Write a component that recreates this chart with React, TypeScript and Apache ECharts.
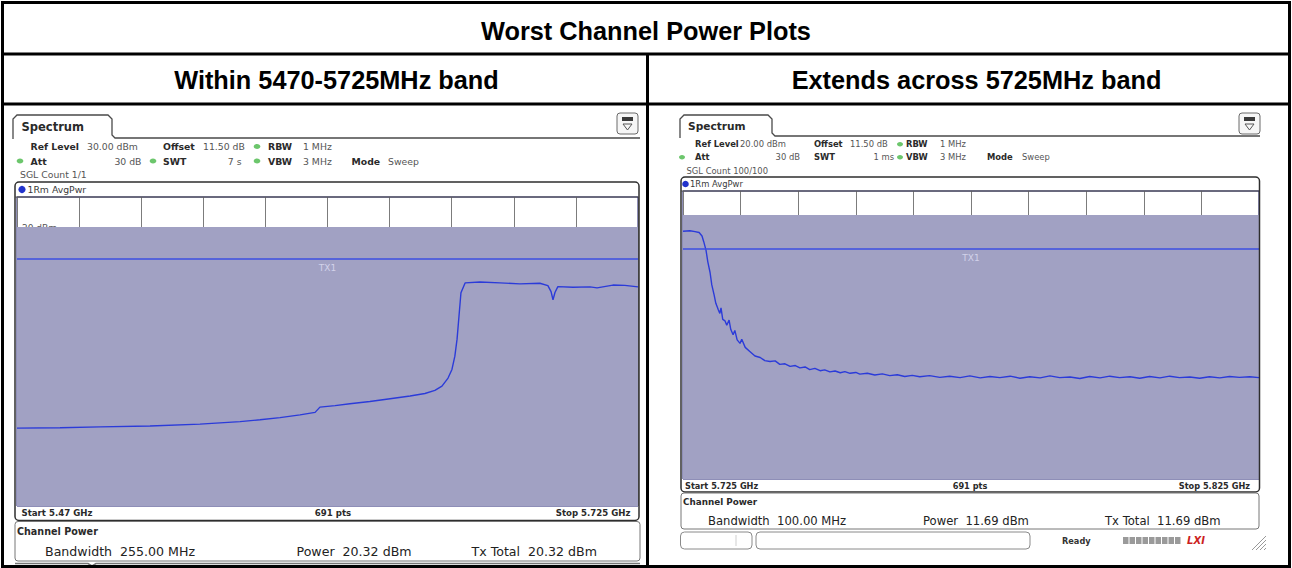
import React, { useEffect, useRef } from "react";
import * as echarts from "echarts";

// ---------- data ----------
const leftFreqMHz = [5470, 5487.7, 5504.1, 5524.6, 5545.1, 5561.6, 5569.8, 5578, 5586.2, 5592.4, 5594.4, 5600.6, 5606.7, 5614.9, 5623.2, 5631.4, 5637.5, 5641.6, 5644.5, 5647, 5648.6, 5649.8, 5650.7, 5651.5, 5652.3, 5654, 5660.1, 5668.3, 5676.5, 5684.7, 5688, 5689.3, 5690.1, 5690.9, 5692.1, 5698.3, 5705.3, 5708.2, 5714.7, 5719.6, 5725];
const leftPowerDbm = [-44.8, -44.7, -44.4, -44.1, -43.5, -42.7, -42.1, -41.4, -40.5, -39.7, -38.0, -37.5, -36.9, -36.2, -35.3, -34.4, -33.6, -32.6, -31.2, -28.6, -25.8, -21.5, -16.0, -8.5, -1.0, 2.2, 2.5, 2.2, 1.9, 2.1, 1.3, -0.6, -3.3, -0.9, 1.0, 0.8, 0.9, 0.6, 1.5, 1.4, 0.9];

const rightFreqMHz = [5725, 5726.2, 5727.1, 5727.8, 5728.3, 5728.6, 5729.0, 5729.3, 5729.7, 5730.0, 5730.4, 5730.7, 5731.1, 5731.4, 5731.6, 5731.9, 5732.3, 5732.6, 5733.0, 5733.3, 5733.7, 5734.0, 5734.4, 5734.9, 5735.2, 5735.8, 5736.6, 5737.5, 5738.4, 5739.2, 5740.1, 5741.0, 5741.8, 5742.7, 5743.6, 5744.5, 5745.3, 5746.2, 5747.0, 5747.9, 5748.8, 5749.6, 5750.5, 5751.4, 5752.3, 5753.1, 5754.0, 5755.0, 5755.7, 5757.0, 5758.3, 5759.6, 5760.9, 5762.2, 5763.5, 5764.8, 5766.1, 5767.8, 5769.6, 5771.3, 5773.1, 5774.8, 5776.6, 5778.3, 5780.0, 5781.8, 5783.5, 5785.2, 5787.0, 5788.7, 5790.4, 5792.2, 5793.9, 5795.6, 5797.4, 5799.1, 5800.8, 5802.6, 5804.3, 5806.0, 5807.8, 5809.5, 5811.2, 5813.0, 5814.7, 5816.4, 5818.2, 5819.9, 5821.6, 5823.4, 5825.0];
const rightPowerDbm = [6.0, 6.2, 5.9, 5.6, 4.4, 2.4, -0.6, -4.5, -8.3, -12.6, -16.1, -19.0, -21.1, -22.5, -20.6, -24.6, -25.1, -26.6, -24.8, -28.1, -29.9, -28.4, -31.7, -32.9, -31.5, -34.3, -35.7, -37.3, -37.8, -38.9, -39.2, -39.0, -40.2, -40.0, -40.9, -40.6, -41.4, -41.1, -42.0, -41.6, -42.4, -42.1, -42.8, -42.5, -43.1, -42.7, -43.3, -43.0, -43.6, -43.3, -43.9, -43.5, -44.1, -43.8, -44.4, -44.0, -44.5, -44.1, -44.7, -44.3, -44.8, -44.2, -44.9, -44.4, -44.8, -44.3, -45.0, -44.5, -44.9, -44.2, -44.8, -44.6, -45.1, -44.4, -44.9, -44.3, -44.8, -44.5, -45.0, -44.4, -44.9, -44.3, -44.8, -44.6, -45.0, -44.5, -44.9, -44.4, -44.7, -44.5, -44.8];

const leftStartMHz = 5470;
const leftStopMHz = 5725;
const rightStartMHz = 5725;
const rightStopMHz = 5825;
const leftRefLevel = 30;
const rightRefLevel = 20;
const leftChannelPower = 20.32;
const rightChannelPower = 11.69;
const leftTx1Level = 10;
const rightTx1Level = 0;

const titleText = "Worst Channel Power Plots";
const headingTexts = ["Within 5470-5725MHz band", "Extends across 5725MHz band"];

// ---------- helpers ----------
const UI = "DejaVu Sans";
const LAB = "#2a2a2a";
const VAL = "#555555";

function txt(x: number, y: number, text: string, o: any = {}) {
  const align = o.align || "left";
  return {
    type: "text",
    x,
    y,
    z: 100,
    silent: true,
    style: {
      text,
      fill: o.color || LAB,
      fontSize: o.size || 9,
      fontWeight: o.bold ? "bold" : "normal",
      fontFamily: o.family || UI,
      align,
      textAlign: align,
      verticalAlign: "middle",
      textVerticalAlign: "middle",
    },
  };
}
function rect(x: number, y: number, w: number, h: number, o: any = {}) {
  return {
    type: "rect",
    z: o.z ?? 90,
    silent: true,
    shape: { x, y, width: w, height: h, r: o.r || 0 },
    style: { fill: o.fill || "none", stroke: o.stroke || "none", lineWidth: o.lw || 1 },
  };
}
function line(x1: number, y1: number, x2: number, y2: number, stroke: string, lw = 1, z = 95) {
  return { type: "line", z, silent: true, shape: { x1, y1, x2, y2 }, style: { stroke, lineWidth: lw } };
}
function poly(points: number[][], stroke: string, lw = 1, fill = "none") {
  return { type: "polyline", z: 95, silent: true, shape: { points }, style: { stroke, lineWidth: lw, fill } };
}
function dot(cx: number, cy: number, color = "#6cc66c", rx = 3.3, ry = 2.4) {
  return { type: "ellipse", z: 100, silent: true, shape: { cx, cy, rx, ry }, style: { fill: color } };
}
function icon(x: number, y: number) {
  return [
    rect(x, y, 21, 21, { r: 3, stroke: "#6a6a6a", fill: "#f6f6f6", lw: 1 }),
    rect(x + 5, y + 4, 11, 4, { fill: "#3a3a3a", z: 101 }),
    { type: "polygon", z: 101, silent: true, shape: { points: [[x + 6, y + 11], [x + 15, y + 11], [x + 10.5, y + 17]] }, style: { fill: "none", stroke: "#555", lineWidth: 1 } },
  ];
}

function buildGraphics() {
  const g: any[] = [];
  // table
  g.push(rect(2.5, 2.5, 1287, 564, { stroke: "#000", lw: 3, z: 110 }));
  g.push(line(2, 54, 1290, 54, "#000", 3, 110));
  g.push(line(2, 104, 1290, 104, "#000", 3, 110));
  g.push(line(647.5, 54, 647.5, 567, "#000", 3, 110));
  g.push(txt(646, 30.5, titleText, { family: "Liberation Sans", bold: true, size: 25.3, color: "#000", align: "center" }));
  g.push(txt(336.5, 80, headingTexts[0], { family: "Liberation Sans", bold: true, size: 25.3, color: "#000", align: "center" }));
  g.push(txt(976.5, 80, headingTexts[1], { family: "Liberation Sans", bold: true, size: 25.3, color: "#000", align: "center" }));

  // ---------- left screenshot ----------
  g.push(poly([[13, 139], [13, 119], [17, 115], [108, 115], [112, 119], [112, 135], [115, 138], [640, 138]], "#4a4a4a", 1.3));
  g.push(...icon(617, 113));
  g.push(txt(21.5, 126.5, "Spectrum", { bold: true, size: 11.5 }));
  let y = 146.5;
  g.push(txt(30.5, y, "Ref Level", { bold: true, size: 9.3 }));
  g.push(txt(87, y, "30.00 dBm", { size: 9.3, color: VAL }));
  g.push(txt(163, y, "Offset", { bold: true, size: 9.3 }));
  g.push(txt(203, y, "11.50 dB", { size: 9.3, color: VAL }));
  g.push(dot(257, y));
  g.push(txt(268, y, "RBW", { bold: true, size: 9.3 }));
  g.push(txt(303, y, "1 MHz", { size: 9.3, color: VAL }));
  y = 161;
  g.push(dot(20, y));
  g.push(txt(30.5, y, "Att", { bold: true, size: 9.3 }));
  g.push(txt(141.5, y, "30 dB", { size: 9.3, color: VAL, align: "right" }));
  g.push(dot(153, y));
  g.push(txt(163, y, "SWT", { bold: true, size: 9.3 }));
  g.push(txt(241.5, y, "7 s", { size: 9.3, color: VAL, align: "right" }));
  g.push(dot(257, y));
  g.push(txt(268, y, "VBW", { bold: true, size: 9.3 }));
  g.push(txt(303, y, "3 MHz", { size: 9.3, color: VAL }));
  g.push(txt(351.5, y, "Mode", { bold: true, size: 9.3 }));
  g.push(txt(388, y, "Sweep", { size: 9.3, color: VAL }));
  g.push(txt(20, 174, "SGL Count 1/1", { size: 9.3, color: VAL }));
  g.push(rect(15, 182, 624, 338.5, { r: 4, stroke: "#2e2e2e", lw: 1.5 }));
  g.push(line(15, 197, 639, 197, "#444", 1));
  g.push({ type: "circle", z: 100, silent: true, shape: { cx: 22, cy: 189.5, r: 3.6 }, style: { fill: "#2233cc" } });
  g.push(txt(27.5, 189.5, "1Rm AvgPwr", { size: 9.3, color: "#3a3a3a" }));
  g.push(txt(21.5, 513, "Start 5.47 GHz", { bold: true, size: 8.6 }));
  g.push(txt(333, 513, "691 pts", { bold: true, size: 8.6, align: "center" }));
  g.push(txt(630.5, 513, "Stop 5.725 GHz", { bold: true, size: 8.6, align: "right" }));
  g.push(rect(15, 521.5, 625, 39.5, { r: 3, stroke: "#777", lw: 1 }));
  g.push(txt(17, 531, "Channel Power", { bold: true, size: 9.6 }));
  g.push(txt(45, 551, "Bandwidth  255.00 MHz", { size: 12.6, color: "#222" }));
  g.push(txt(296.5, 551, "Power  20.32 dBm", { size: 12.6, color: "#222" }));
  g.push(txt(471.5, 551, "Tx Total  20.32 dBm", { size: 12.6, color: "#222" }));
  g.push(poly([[15, 563.5], [88, 563.5], [92, 566], [96, 563.5], [640, 563.5]], "#777", 1.5));

  // ---------- right screenshot ----------
  g.push(poly([[680, 138], [680, 119], [684, 115], [768, 115], [772, 119], [772, 133], [775, 136], [1260, 136]], "#4a4a4a", 1.3));
  g.push(...icon(1239, 113));
  g.push(txt(688, 126, "Spectrum", { bold: true, size: 10.6 }));
  y = 144.3;
  g.push(txt(695, y, "Ref Level", { bold: true, size: 8.4 }));
  g.push(txt(740, y, "20.00 dBm", { size: 8.4, color: VAL }));
  g.push(txt(814, y, "Offset", { bold: true, size: 8.4 }));
  g.push(txt(850, y, "11.50 dB", { size: 8.4, color: VAL }));
  g.push(dot(900, y, "#6cc66c", 3, 2.2));
  g.push(txt(906, y, "RBW", { bold: true, size: 8.4 }));
  g.push(txt(940, y, "1 MHz", { size: 8.4, color: VAL }));
  y = 157.3;
  g.push(dot(682, y, "#6cc66c", 3, 2.2));
  g.push(txt(695, y, "Att", { bold: true, size: 8.4 }));
  g.push(txt(800, y, "30 dB", { size: 8.4, color: VAL, align: "right" }));
  g.push(txt(814, y, "SWT", { bold: true, size: 8.4 }));
  g.push(txt(894, y, "1 ms", { size: 8.4, color: VAL, align: "right" }));
  g.push(dot(900, y, "#6cc66c", 3, 2.2));
  g.push(txt(906, y, "VBW", { bold: true, size: 8.4 }));
  g.push(txt(940, y, "3 MHz", { size: 8.4, color: VAL }));
  g.push(txt(987, y, "Mode", { bold: true, size: 8.4 }));
  g.push(txt(1022, y, "Sweep", { size: 8.4, color: VAL }));
  g.push(txt(686.5, 170.7, "SGL Count 100/100", { size: 8.4, color: VAL }));
  g.push(rect(681, 177, 578.5, 315, { r: 4, stroke: "#2e2e2e", lw: 1.5 }));
  g.push(line(681, 191, 1259, 191, "#444", 1));
  g.push({ type: "circle", z: 100, silent: true, shape: { cx: 685.5, cy: 184, r: 3.3 }, style: { fill: "#2233cc" } });
  g.push(txt(690, 184, "1Rm AvgPwr", { size: 8.4, color: "#3a3a3a" }));
  g.push(txt(685, 485.5, "Start 5.725 GHz", { bold: true, size: 8.2 }));
  g.push(txt(970, 485.5, "691 pts", { bold: true, size: 8.2, align: "center" }));
  g.push(txt(1250, 485.5, "Stop 5.825 GHz", { bold: true, size: 8.2, align: "right" }));
  g.push(rect(681, 493, 578, 36, { r: 3, stroke: "#777", lw: 1 }));
  g.push(txt(683, 502, "Channel Power", { bold: true, size: 8.8 }));
  g.push(txt(708, 521, "Bandwidth  100.00 MHz", { size: 11.6, color: "#222" }));
  g.push(txt(923, 521, "Power  11.69 dBm", { size: 11.6, color: "#222" }));
  g.push(txt(1105, 521, "Tx Total  11.69 dBm", { size: 11.6, color: "#222" }));
  // status bar
  g.push(rect(680.5, 532, 71.5, 17, { r: 4, stroke: "#8a8a8a", lw: 1 }));
  g.push(line(736, 535, 736, 546, "#cfcfcf", 1));
  g.push(rect(756, 532, 274, 17, { r: 4, stroke: "#8a8a8a", lw: 1 }));
  g.push(txt(1062, 540.5, "Ready", { bold: true, size: 8.2, color: "#333" }));
  for (let i = 0; i < 9; i++) {
    g.push(rect(1123 + i * 6.5, 537, 5.5, 7, { fill: "#9a9a9a", z: 100 }));
  }
  g.push({ type: "text", x: 1196, y: 540.5, z: 100, silent: true, style: { text: "LXI", fill: "#cc1f1f", fontSize: 10, fontWeight: "bold", fontStyle: "italic", fontFamily: UI, align: "center", textAlign: "center", verticalAlign: "middle", textVerticalAlign: "middle" } });
  for (let i = 0; i < 4; i++) {
    g.push(line(1252 + i * 4, 550, 1266, 536 + i * 4, "#999", 1));
  }
  return g;
}

function buildOption() {
  const leftData = leftFreqMHz.map((f, i) => [f - leftStartMHz, leftPowerDbm[i]]);
  const rightData = rightFreqMHz.map((f, i) => [f - rightStartMHz, rightPowerDbm[i]]);
  const leftSpan = leftStopMHz - leftStartMHz;
  const rightSpan = rightStopMHz - rightStartMHz;

  const xAxisBase = {
    type: "value",
    min: 0,
    axisLabel: { show: false },
    axisTick: { show: false },
    axisLine: { show: false },
    splitLine: { show: true, lineStyle: { color: "#7c7c7c", width: 1 } },
  };
  const traceStyle = { color: "#2b3bd9", width: 1.4 };
  const tx1Line = (level: number) => ({
    symbol: "none",
    silent: true,
    lineStyle: { color: "#3d4fe2", width: 1.6, type: "solid" },
    label: { show: true, position: "insideMiddleBottom", formatter: "TX1", color: "#d2d2ea", fontSize: 9, fontFamily: UI },
    data: [{ yAxis: level }],
  });
  const band = (xi: number, bottom: number, top: number, data: number[][]) => ({
    type: "line",
    xAxisIndex: xi,
    yAxisIndex: xi,
    data,
    z: 1,
    symbol: "none",
    lineStyle: { opacity: 0, width: 0 },
    silent: true,
    markArea: {
      silent: true,
      itemStyle: { color: "#a1a1c3", opacity: 1 },
      data: [[{ yAxis: bottom }, { yAxis: top }]],
    },
  });

  return {
    animation: false,
    backgroundColor: "#ffffff",
    grid: [
      { left: 17, top: 197, width: 621, height: 309, show: true, backgroundColor: "#ffffff", borderColor: "#1f1f70", borderWidth: 1 },
      { left: 683, top: 191, width: 576, height: 288, show: true, backgroundColor: "#ffffff", borderColor: "#1f1f70", borderWidth: 1 },
    ],
    xAxis: [
      { ...xAxisBase, gridIndex: 0, max: leftSpan, interval: leftSpan / 10 },
      { ...xAxisBase, gridIndex: 1, max: rightSpan, interval: rightSpan / 10 },
    ],
    yAxis: [
      {
        type: "value", gridIndex: 0, min: leftRefLevel - 100, max: leftRefLevel, interval: 10,
        axisLine: { show: false }, axisTick: { show: false }, splitLine: { show: false },
        axisLabel: { show: true, inside: true, margin: 5, color: "#555", fontSize: 9, fontFamily: UI,
          formatter: (v: number) => (v === leftRefLevel - 10 ? (leftRefLevel - 10) + " dBm" : "") },
      },
      {
        type: "value", gridIndex: 1, min: rightRefLevel - 100, max: rightRefLevel, interval: 10,
        axisLine: { show: false }, axisTick: { show: false }, splitLine: { show: false }, axisLabel: { show: false },
      },
    ],
    series: [
      band(0, leftRefLevel - 100, leftChannelPower, leftData),
      band(1, rightRefLevel - 100, rightChannelPower, rightData),
      {
        type: "line", xAxisIndex: 0, yAxisIndex: 0, data: leftData, z: 3, symbol: "none", showSymbol: false,
        lineStyle: traceStyle, markLine: tx1Line(leftTx1Level),
      },
      {
        type: "line", xAxisIndex: 1, yAxisIndex: 1, data: rightData, z: 3, symbol: "none", showSymbol: false,
        lineStyle: traceStyle, markLine: tx1Line(rightTx1Level),
      },
    ],
    graphic: { elements: buildGraphics() },
  };
}

export default function App() {
  const ref = useRef<HTMLDivElement>(null);
  useEffect(() => {
    document.body.style.margin = "0";
    if (!ref.current) return;
    const chart = echarts.init(ref.current, undefined, { renderer: "svg" });
    chart.setOption(buildOption() as any);
    return () => chart.dispose();
  }, []);
  return <div ref={ref} style={{ position: "absolute", left: 0, top: 0, width: 1292, height: 568, background: "#fff" }} />;
}
